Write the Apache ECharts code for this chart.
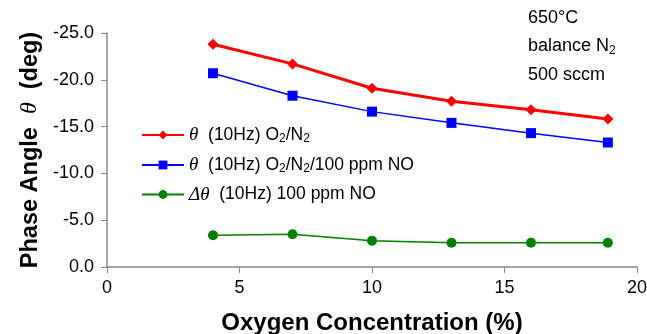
<!DOCTYPE html>
<html>
<head>
<meta charset="utf-8">
<script src="https://cdn.jsdelivr.net/npm/echarts@6/dist/echarts.min.js"></script>
<style>
  html, body { margin:0; padding:0; background:#fff; }
  #chart { width:647px; height:334px; }
</style>
</head>
<body>
<div id="chart"></div>
<script>
// oxygen concentration (%)
var oxygen = [4, 7, 10, 13, 16, 18.9];
// phase angle values (deg)
var thetaO2N2 = [-23.8, -21.7, -19.1, -17.7, -16.8, -15.8];
var thetaNO = [-20.7, -18.3, -16.6, -15.4, -14.3, -13.3];
var deltaTheta = [-3.4, -3.5, -2.8, -2.6, -2.6, -2.6];
var seriesNames = ['theta1', 'theta2', 'delta'];

var font = 'Liberation Sans, Arial, sans-serif';

function pairs(xs, ys) {
    return xs.map(function (x, i) { return [x, ys[i]]; });
}

var legendRich = {
    th: { fontFamily: 'Liberation Serif', fontStyle: 'italic', fontSize: 19, color: '#000', lineHeight: 22 },
    t: { fontFamily: font, fontSize: 17.5, color: '#000', lineHeight: 22 },
    sub: { fontFamily: font, fontSize: 12, color: '#000', lineHeight: 22, padding: [8, 0, 0, 0] }
};
var legendLabels = {
    theta1: '{th|θ}{t|  (10Hz) O}{sub|2}{t|/N}{sub|2}',
    theta2: '{th|θ}{t|  (10Hz) O}{sub|2}{t|/N}{sub|2}{t|/100 ppm NO}',
    delta: '{th|Δθ}{t|  (10Hz) 100 ppm NO}'
};

var chart = echarts.init(document.getElementById('chart'));
var option = {
    animation: false,
    backgroundColor: '#fff',
    grid: { left: 107, right: 10, top: 33, bottom: 67, outerBoundsMode: 'none' },
    legend: {
        left: 136,
        top: 120,
        orient: 'vertical',
        itemWidth: 42,
        itemHeight: 11,
        itemGap: 10,
        textStyle: { rich: legendRich, fontSize: 17.5 },
        formatter: function (name) { return legendLabels[name]; },
        data: seriesNames
    },
    xAxis: {
        type: 'value',
        min: 0,
        max: 20,
        interval: 5,
        name: 'Oxygen Concentration (%)',
        nameLocation: 'middle',
        nameGap: 44,
        nameTextStyle: { fontFamily: font, fontSize: 24, fontWeight: 'bold', color: '#000' },
        axisLine: { lineStyle: { color: '#888', width: 1.5 } },
        axisTick: { show: true, length: 6, lineStyle: { color: '#888' } },
        axisLabel: { fontFamily: font, fontSize: 18, color: '#000', margin: 12 },
        splitLine: { show: false }
    },
    yAxis: {
        type: 'value',
        min: -25,
        max: 0,
        interval: 5,
        inverse: true,
        name: '{b|Phase Angle  }{th|θ}{b|  (deg)}',
        nameLocation: 'middle',
        nameGap: 63,
        nameTextStyle: {
            rich: {
                b: { fontFamily: font, fontSize: 23.5, fontWeight: 'bold', color: '#000' },
                th: { fontFamily: 'Liberation Serif', fontStyle: 'italic', fontSize: 24, color: '#000' }
            }
        },
        axisLine: { show: true, lineStyle: { color: '#888', width: 1.5 } },
        axisTick: { show: true, length: 6, lineStyle: { color: '#888' } },
        axisLabel: {
            fontFamily: font, fontSize: 18, color: '#000', margin: 13,
            formatter: function (v) { return v.toFixed(1); }
        },
        splitLine: { show: false }
    },
    graphic: [{
        type: 'text',
        left: 528,
        top: 9,
        style: {
            text: '{t|650°C}\n{t|balance N}{sub|2}\n{t|500 sccm}',
            rich: {
                t: { fontFamily: font, fontSize: 18, color: '#000', lineHeight: 28.5 },
                sub: { fontFamily: font, fontSize: 12, color: '#000', lineHeight: 28.5, padding: [8, 0, 0, 0] }
            }
        }
    }],
    series: [{
        name: seriesNames[0],
        type: 'line',
        data: pairs(oxygen, thetaO2N2),
        symbol: 'diamond',
        symbolSize: 11,
        lineStyle: { color: '#ff0000', width: 3 },
        itemStyle: { color: '#ff0000' }
    }, {
        name: seriesNames[1],
        type: 'line',
        data: pairs(oxygen, thetaNO),
        symbol: 'rect',
        symbolSize: 10,
        lineStyle: { color: '#0000ff', width: 1.5 },
        itemStyle: { color: '#0000ff' }
    }, {
        name: seriesNames[2],
        type: 'line',
        data: pairs(oxygen, deltaTheta),
        symbol: 'circle',
        symbolSize: 10,
        lineStyle: { color: '#008000', width: 1.5 },
        itemStyle: { color: '#008000' }
    }]
};
chart.setOption(option);
</script>
</body>
</html>
